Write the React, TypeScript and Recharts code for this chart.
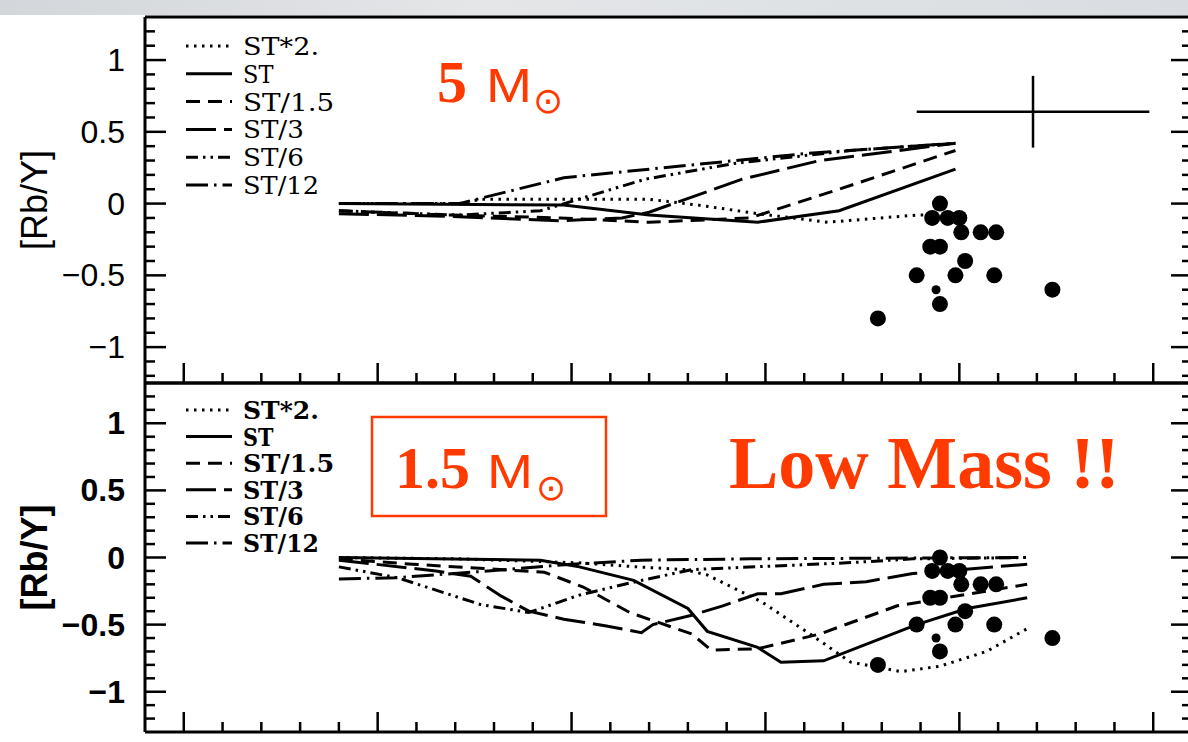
import { ComposedChart, Line, Scatter, XAxis, YAxis, ErrorBar, Legend } from 'recharts'

const RED = '#ff3a00'
const SERIF = '"Liberation Serif", "Times New Roman", serif'
const LEGEND_SERIF = '"DejaVu Serif", serif'
const SANS = '"Liberation Sans", Arial, sans-serif'
const SYMBOL = '"DejaVu Sans", sans-serif'

const seriesNames = ['ST*2.', 'ST', 'ST/1.5', 'ST/3', 'ST/6', 'ST/12']
const dashes = ['2.5 5.5', undefined, '14 8', '30 8', '12 5 2.5 5 2.5 5', '22 6 2.5 6']

const xTicks = [
  -2.0, -1.9, -1.8, -1.7, -1.6, -1.5, -1.4, -1.3, -1.2, -1.1, -1.0, -0.9, -0.8,
  -0.7, -0.6, -0.5, -0.4, -0.3, -0.2, -0.1, 0, 0.1, 0.2, 0.3, 0.4, 0.5,
]
const yTicks = [
  -1.2, -1.1, -1.0, -0.9, -0.8, -0.7, -0.6, -0.5, -0.4, -0.3, -0.2, -0.1, 0,
  0.1, 0.2, 0.3, 0.4, 0.5, 0.6, 0.7, 0.8, 0.9, 1.0, 1.1, 1.2,
]

// 5 Msun models
const m5St2 = [[-1.6, 0], [-1.29, 0], [-1.235, 0.03], [-0.8, 0.03], [-0.675, -0.01], [-0.52, -0.07], [-0.34, -0.13], [-0.11, -0.08], [-0.07, -0.08]]
const m5St = [[-1.6, 0], [-1.02, -0.01], [-0.8, -0.08], [-0.52, -0.13], [-0.31, -0.05], [-0.01, 0.24]]
const m5St15 = [[-1.6, -0.05], [-1.31, -0.08], [-1.03, -0.1], [-0.8, -0.13], [-0.54, -0.1], [-0.31, 0.1], [-0.01, 0.37]]
const m5St3 = [[-1.6, -0.07], [-1.31, -0.09], [-1.03, -0.12], [-0.87, -0.1], [-0.8, -0.06], [-0.56, 0.17], [-0.36, 0.3], [-0.01, 0.42]]
const m5St6 = [[-1.6, -0.05], [-1.29, -0.08], [-1.08, -0.05], [-0.97, 0.04], [-0.81, 0.17], [-0.58, 0.28], [-0.28, 0.37], [-0.01, 0.42]]
const m5St12 = [[-1.6, 0], [-1.29, 0], [-1.02, 0.18], [-0.8, 0.24], [-0.39, 0.35], [-0.01, 0.42]]

// 1.5 Msun models
const m15St2 = [[-1.6, 0], [-1.29, -0.01], [-0.98, -0.04], [-0.83, -0.07], [-0.71, -0.09], [-0.65, -0.13], [-0.51, -0.33], [-0.38, -0.58], [-0.28, -0.78], [-0.15, -0.85], [-0.05, -0.81], [0.07, -0.7], [0.175, -0.53]]
const m15St = [[-1.6, 0], [-1.08, -0.02], [-0.98, -0.07], [-0.84, -0.17], [-0.7, -0.38], [-0.65, -0.55], [-0.52, -0.67], [-0.46, -0.78], [-0.35, -0.77], [-0.11, -0.5], [0.02, -0.38], [0.175, -0.3]]
const m15St15 = [[-1.6, -0.01], [-1.41, -0.05], [-1.07, -0.11], [-0.97, -0.22], [-0.85, -0.41], [-0.69, -0.57], [-0.64, -0.69], [-0.52, -0.68], [-0.36, -0.57], [-0.16, -0.36], [0.175, -0.2]]
const m15St3 = [[-1.6, -0.02], [-1.35, -0.1], [-1.26, -0.14], [-1.18, -0.29], [-1.11, -0.4], [-1.02, -0.46], [-0.91, -0.51], [-0.82, -0.56], [-0.79, -0.5], [-0.69, -0.43], [-0.61, -0.36], [-0.52, -0.27], [-0.46, -0.27], [-0.35, -0.2], [-0.24, -0.18], [-0.12, -0.12], [0.175, -0.05]]
const m15St6 = [[-1.6, -0.07], [-1.45, -0.15], [-1.235, -0.35], [-1.11, -0.41], [-0.98, -0.28], [-0.85, -0.19], [-0.69, -0.09], [-0.29, -0.04], [-0.12, -0.01], [0.175, 0]]
const m15St12 = [[-1.6, -0.16], [-1.45, -0.15], [-1.26, -0.11], [-1.0, -0.05], [-0.82, -0.02], [-0.54, -0.01], [0.175, 0]]

// observed stars
const starX = [-0.05, -0.07, -0.03, 0.0, 0.005, 0.055, 0.095, -0.075, -0.05, 0.015, -0.11, -0.01, 0.09, -0.05, -0.21, 0.24]
const starY = [0.0, -0.1, -0.1, -0.1, -0.2, -0.2, -0.2, -0.3, -0.3, -0.4, -0.5, -0.5, -0.5, -0.7, -0.8, -0.6]
const smallStarX = [-0.06]
const smallStarY = [-0.6]

// typical error
const errX = [0.19]
const errY = [0.64]
const errDx = [0.3]
const errDy = [0.25]

const toPts = (a: number[][]) => a.map(([x, y]) => ({ x, y }))
const stars = starX.map((x, i) => ({ x, y: starY[i] }))
const smallStars = smallStarX.map((x, i) => ({ x, y: smallStarY[i] }))
const errData = errX.map((x, i) => ({ x, y: errY[i], dx: errDx[i], dy: errDy[i] }))

const isMajor = (v: number) => Math.abs(v * 2 - Math.round(v * 2)) < 1e-6
const fmt = (v: number) => (v < 0 ? '\u2212' + String(-v) : String(v))

const makeLeftTick = (bold: boolean) => (p: any) => {
  const v = p.payload.value
  const major = isMajor(v)
  return (
    <g>
      <line x1={p.x} x2={p.x + (major ? 21 : 10)} y1={p.y} y2={p.y} stroke="#000" strokeWidth={2.5} />
      {major && (
        <text x={p.x - 20} y={p.y + 11} textAnchor="end" fontSize={32} fontFamily={SANS} fontWeight={bold ? 700 : 400} fill="#000">
          {fmt(v)}
        </text>
      )}
    </g>
  )
}
const RightTick = (p: any) => {
  const major = isMajor(p.payload.value)
  return <line x1={p.x} x2={p.x - (major ? 21 : 10)} y1={p.y} y2={p.y} stroke="#000" strokeWidth={2.5} />
}
const BottomTick = (p: any) => {
  const major = isMajor(p.payload.value)
  return <line x1={p.x} x2={p.x} y1={p.y} y2={p.y - (major ? 20 : 10)} stroke="#000" strokeWidth={2.5} />
}
const TopTick = (p: any) => {
  const major = isMajor(p.payload.value)
  return <line x1={p.x} x2={p.x} y1={p.y} y2={p.y + (major ? 20 : 10)} stroke="#000" strokeWidth={2.5} />
}

const YTitle = ({ viewBox, bold }: any) => {
  const cy = viewBox ? viewBox.y + viewBox.height / 2 : 200
  return (
    <text x={0} y={0} transform={`translate(47, ${cy}) rotate(-90)`} textAnchor="middle" fontSize={36} fontFamily={SANS} fontWeight={bold ? 700 : 400} fill="#000">
      [Rb/Y]
    </text>
  )
}

const BigDot = (p: any) => <circle cx={p.cx} cy={p.cy} r={8} fill="#000" />
const SmallDot = (p: any) => <circle cx={p.cx} cy={p.cy} r={4.5} fill="#000" />
const NoDot = () => <g />

// legend glyphs in the original are wide (about 15px per character)
const LegendBox = ({ bold, step }: { bold: boolean; step: number }) => (
  <svg width={200} height={175}>
    {seriesNames.map((n, i) => {
      const y = 16 + i * step
      return (
        <g key={n}>
          <line x1={6} x2={52} y1={y} y2={y} stroke="#000" strokeWidth={3} strokeDasharray={dashes[i]} />
          <text
            x={63}
            y={y + 9}
            fontSize={24}
            fontFamily={LEGEND_SERIF}
            fontWeight={bold ? 700 : 400}
            fill="#000"
            textLength={n.length * 15.2}
            lengthAdjust="spacingAndGlyphs"
          >
            {n}
          </text>
        </g>
      )
    })}
  </svg>
)

type PanelProps = {
  models: number[][][]
  yDomain: [number, number]
  height: number
  margin: { top: number; right: number; bottom: number; left: number }
  bold: boolean
  legendTop: number
  legendStep: number
  withError?: boolean
}

function Panel({ models, yDomain, height, margin, bold, legendTop, legendStep, withError }: PanelProps) {
  const axisLine = { stroke: '#000', strokeWidth: 3 }
  return (
    <ComposedChart width={1250} height={height} margin={margin}>
      <XAxis dataKey="x" type="number" domain={[-2.1, 0.6]} ticks={xTicks} interval={0} allowDataOverflow height={10} tickSize={0} tickMargin={0} tickLine={false} axisLine={axisLine} tick={BottomTick} />
      <XAxis xAxisId="top" orientation="top" type="number" domain={[-2.1, 0.6]} ticks={xTicks} interval={0} allowDataOverflow height={10} tickSize={0} tickMargin={0} tickLine={false} axisLine={axisLine} tick={TopTick} />
      <YAxis type="number" domain={yDomain} ticks={yTicks} interval={0} allowDataOverflow width={145} tickSize={0} tickMargin={0} tickLine={false} axisLine={axisLine} tick={makeLeftTick(bold)} label={<YTitle bold={bold} />} />
      <YAxis yAxisId="right" orientation="right" type="number" domain={yDomain} ticks={yTicks} interval={0} allowDataOverflow width={20} tickSize={0} tickMargin={0} tickLine={false} axisLine={axisLine} tick={RightTick} />
      <Legend layout="vertical" align="center" verticalAlign="middle" wrapperStyle={{ left: 180, top: legendTop, width: 200, height: 175 }} content={() => <LegendBox bold={bold} step={legendStep} />} />
      {models.map((m, i) => (
        <Line key={seriesNames[i]} name={seriesNames[i]} data={toPts(m)} dataKey="y" type="linear" stroke="#000" strokeWidth={3} strokeDasharray={dashes[i]} dot={false} activeDot={false} isAnimationActive={false} />
      ))}
      <Scatter data={stars} dataKey="y" shape={BigDot} isAnimationActive={false} />
      <Scatter data={smallStars} dataKey="y" shape={SmallDot} isAnimationActive={false} />
      {withError && (
        <Scatter data={errData} dataKey="y" shape={NoDot} isAnimationActive={false}>
          <ErrorBar dataKey="dx" direction="x" width={0} stroke="#000" strokeWidth={2.5} />
          <ErrorBar dataKey="dy" direction="y" width={0} stroke="#000" strokeWidth={2.5} />
        </Scatter>
      )}
    </ComposedChart>
  )
}

export default function App() {
  return (
    <div style={{ position: 'absolute', left: 0, top: 0, width: 1188, height: 742, overflow: 'hidden', background: '#fff' }}>
      <div style={{ position: 'absolute', left: 0, top: 0, width: 1188, height: 15, background: 'linear-gradient(90deg, #d3d6da, #e4e6e8 40%, #d9dde1)' }} />
      <div style={{ position: 'absolute', left: 0, top: 0 }}>
        <Panel
          models={[m5St2, m5St, m5St15, m5St3, m5St6, m5St12]}
          yDomain={[-1.25, 1.3]}
          height={400}
          margin={{ top: 7, right: 38, bottom: 7, left: 0 }}
          bold={false}
          legendTop={30}
          legendStep={27.8}
          withError
        />
      </div>
      <div style={{ position: 'absolute', left: 0, top: 370 }}>
        <Panel
          models={[m15St2, m15St, m15St15, m15St3, m15St6, m15St12]}
          yDomain={[-1.3, 1.3]}
          height={380}
          margin={{ top: 3, right: 38, bottom: 8, left: 0 }}
          bold
          legendTop={24}
          legendStep={26.6}
        />
      </div>
      <svg width={1188} height={742} style={{ position: 'absolute', left: 0, top: 0, pointerEvents: 'none' }}>
        <text x={437} y={102} fontSize={60} fontFamily={SERIF} fontWeight={700} fill={RED}>5</text>
        <text x={486} y={102} fontSize={49} fontFamily={SANS} fill={RED} textLength={46} lengthAdjust="spacingAndGlyphs">M</text>
        <text x={533} y={113} fontSize={36} fontFamily={SYMBOL} fill={RED}>⊙</text>
        <rect x={372} y={417} width={234} height={99} fill="none" stroke={RED} strokeWidth={2.5} />
        <text x={395} y={488} fontSize={60} fontFamily={SERIF} fontWeight={700} fill={RED}>1.5</text>
        <text x={487} y={488} fontSize={49} fontFamily={SANS} fill={RED} textLength={46} lengthAdjust="spacingAndGlyphs">M</text>
        <text x={536} y={500} fontSize={36} fontFamily={SYMBOL} fill={RED}>⊙</text>
        <text x={729} y={488} fontSize={74} fontFamily={SERIF} fontWeight={700} fill={RED}>Low Mass !!</text>
      </svg>
    </div>
  )
}
